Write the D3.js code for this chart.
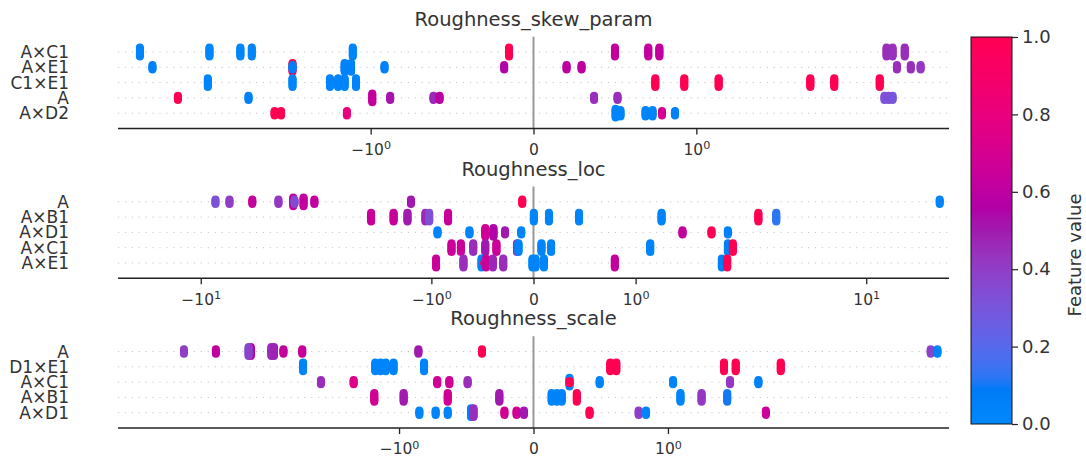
<!DOCTYPE html>
<html>
<head>
<meta charset="utf-8">
<script src="https://cdn.jsdelivr.net/npm/d3@7"></script>
<style>
body { margin: 0; background: #fff; }
svg { display: block; }
text { font-family: "DejaVu Sans", sans-serif; fill: #333; }
</style>
</head>
<body>
<svg id="chart" width="1086" height="458"></svg>
<script>
var titles = ["Roughness_skew_param", "Roughness_loc", "Roughness_scale"];
var features = [
    ["A×C1", "A×E1", "C1×E1", "A", "A×D2"],
    ["A", "A×B1", "A×D1", "A×C1", "A×E1"],
    ["A", "D1×E1", "A×C1", "A×B1", "A×D1"]
];
var xLimits = [4.05, 28.2, 8.07];
var xTicks = [[-1, 0, 1], [-10, -1, 0, 1, 10], [-1, 0, 1]];
var colorTicks = [0, 0.2, 0.4, 0.6, 0.8, 1.0];

// each point: [shap value, feature value, number of stacked samples]
var skewPoints = [
    [[-3.41, 0.02, 9], [-1.99, 0.02, 9], [-1.80, 0.02, 9], [-1.73, 0.02, 9], [-1.11, 0.03, 9], [-0.15, 1, 9],
     [0.50, 0.62, 9], [0.705, 0.62, 9], [0.773, 0.62, 9], [2.48, 0.45, 9], [2.60, 0.44, 9], [2.86, 0.45, 9]],
    [[-3.09, 0.05, 5], [-1.48, 1, 9], [-1.48, 0.05, 5], [-1.16, 0.04, 9], [-1.12, 0.04, 9], [-0.915, 0.05, 5],
     [-0.18, 0.55, 5], [0.203, 0.6, 5], [0.295, 0.6, 5], [2.69, 0.45, 5], [3.00, 0.45, 5], [3.24, 0.42, 5]],
    [[-2.00, 0.03, 9], [-1.48, 0.03, 9], [-1.25, 0.03, 9], [-1.20, 0.03, 9], [-1.16, 0.03, 9], [-1.09, 0.03, 9],
     [0.748, 1, 9], [0.926, 1, 9], [1.137, 1, 9], [1.70, 1, 9], [1.847, 1, 9], [2.35, 1, 9]],
    [[-2.53, 1, 5], [-1.75, 0.05, 5], [-0.99, 0.62, 9], [-0.88, 0.52, 5], [-0.614, 0.47, 5], [-0.577, 0.58, 5],
     [0.372, 0.45, 5], [0.516, 0.45, 5], [2.44, 0.32, 5], [2.52, 0.32, 5], [2.60, 0.3, 5]],
    [[-1.59, 1, 5], [-1.55, 1, 5], [-1.146, 0.8, 5], [0.504, 0.03, 9], [0.534, 0.03, 7], [0.688, 0.03, 7],
     [0.731, 0.03, 7], [0.789, 0.7, 5], [0.869, 0.05, 5]]
];
var locPoints = [
    [[-8.32, 0.32, 5], [-6.98, 0.4, 5], [-5.24, 0.62, 5], [-3.78, 0.42, 5], [-3.14, 0.62, 9], [-3.09, 0.35, 5],
     [-2.76, 0.62, 9], [-2.41, 0.62, 5], [-1.20, 0.5, 5], [-0.11, 1, 5], [25.1, 0.03, 5]],
    [[-1.59, 0.64, 9], [-1.37, 0.64, 9], [-1.234, 0.5, 9], [-1.058, 0.47, 9], [-1.021, 0.33, 9], [-0.836, 0.64, 9],
     [0.003, 0.03, 9], [0.151, 0.03, 9], [0.446, 0.03, 9], [1.254, 0.03, 9], [2.59, 1, 9], [3.24, 0.12, 9]],
    [[-0.94, 0.03, 5], [-0.627, 0.03, 5], [-0.472, 0.68, 9], [-0.392, 0.55, 9], [-0.279, 0.5, 5], [-0.12, 0.03, 5],
     [1.459, 0.62, 5], [1.743, 1, 5], [1.903, 0.05, 5]],
    [[-0.803, 0.65, 9], [-0.711, 0.65, 9], [-0.59, 0.45, 9], [-0.472, 0.5, 9], [-0.363, 0.65, 9], [-0.162, 0.45, 9],
     [-0.147, 0.03, 9], [0.078, 0.03, 9], [0.173, 0.03, 9], [1.143, 0.03, 9], [1.903, 0.05, 9], [1.952, 1, 9]],
    [[-0.954, 0.65, 9], [-0.686, 0.45, 9], [-0.509, 0.03, 9], [-0.48, 1, 3], [-0.465, 0.65, 9], [-0.398, 0.47, 9],
     [-0.296, 0.45, 9], [-0.01, 0.03, 9], [0.02, 0.03, 9], [0.102, 0.03, 9], [0.796, 0.62, 9], [1.844, 0.05, 9],
     [1.897, 1, 9]]
];
var scalePoints = [
    [[-4.31, 0.4, 5], [-3.18, 0.62, 5], [-2.28, 0.62, 9], [-2.33, 0.38, 9], [-1.95, 0.45, 9], [-1.93, 0.48, 9],
     [-1.86, 0.62, 5], [-1.72, 0.64, 5], [-0.856, 0.5, 5], [-0.383, 1, 5], [6.78, 0.38, 5], [7.23, 0.03, 5]],
    [[-1.714, 0.03, 9], [-1.177, 0.03, 9], [-1.138, 0.03, 9], [-1.099, 0.03, 9], [-1.041, 0.03, 9], [-0.814, 0.03, 9],
     [0.571, 1, 9], [0.616, 1, 9], [1.417, 1, 9], [1.504, 1, 9], [1.839, 1, 9]],
    [[-1.581, 0.45, 5], [-1.338, 0.75, 5], [-0.716, 0.68, 5], [-0.626, 0.68, 5], [-0.49, 0.45, 5], [0.268, 0.03, 9],
     [0.268, 1, 3], [0.492, 0.03, 5], [1.038, 0.03, 5], [1.462, 0.42, 5], [1.673, 0.05, 5]],
    [[-1.184, 0.68, 9], [-0.966, 0.5, 9], [-0.638, 0.68, 9], [-0.254, 0.5, 9], [0.135, 0.03, 9], [0.173, 0.03, 9],
     [0.21, 0.03, 9], [0.322, 1, 9], [1.093, 0.03, 9], [1.25, 0.42, 9], [1.441, 0.1, 9]],
    [[-0.849, 0.03, 5], [-0.728, 0.03, 5], [-0.638, 0.03, 5], [-0.465, 0.03, 9], [-0.446, 0.45, 9], [-0.216, 0.68, 5],
     [-0.126, 0.68, 5], [-0.071, 0.5, 5], [0.417, 1, 5], [0.782, 0.4, 5], [0.837, 0.03, 5], [1.728, 0.65, 5]]
];
var panelPoints = [skewPoints, locPoints, scalePoints];

// matplotlib style symlog (linthresh 2, linscale 1)
var linthresh = 2, linAdj = 1 / (1 - 1 / 10);
function symlog(v) {
    var a = Math.abs(v);
    if (a <= linthresh) return v * linAdj;
    return Math.sign(v) * linthresh * (linAdj + Math.log10(a / linthresh));
}

// shap red_blue colormap, interpolated in Lch
function shapColor(t) {
    var l = t < 0.5 ? 54 + (40 - 54) * t / 0.5 : 40 + (54 - 40) * (t - 0.5) / 0.5;
    var c = 70 + 20 * t;
    var h = 266.93 + (380.32 - 266.93) * t;
    return d3.hcl(h, c, l).formatHex();
}

var svg = d3.select("#chart");
var left = 118, right = 949;
var rowUnit = 15.3;
var bottoms = [128.5, 278.3, 428];
var dotR = 4;

function tickLabel(sel, v) {
    sel.text(null);
    if (v === 0) { sel.text("0"); return; }
    var e = Math.round(Math.log10(Math.abs(v)));
    sel.append("tspan").text((v < 0 ? "\u221210" : "10"));
    sel.append("tspan").attr("dy", "-0.5em").attr("font-size", "0.72em").text(e);
}

titles.forEach(function (title, p) {
    var bottom = bottoms[p];
    var top = bottom - 6 * rowUnit;
    var L = xLimits[p];
    var x = d3.scaleLinear().domain([symlog(-L), symlog(L)]).range([left, right]);
    var y = d3.scaleLinear().domain([-1, 5]).range([bottom, top]);
    var g = svg.append("g");

    // dotted row guides
    features[p].forEach(function (f, i) {
        var yy = y(4 - i);
        g.append("line").attr("x1", left).attr("x2", right).attr("y1", yy).attr("y2", yy)
            .attr("stroke", "#c4c4c4").attr("stroke-width", 1).attr("stroke-dasharray", "1.2,5.7");
        g.append("text").attr("x", 69).attr("y", yy + 6).attr("text-anchor", "end")
            .attr("font-size", 17).text(f);
    });

    g.append("line").attr("x1", x(0)).attr("x2", x(0)).attr("y1", top).attr("y2", bottom)
        .attr("stroke", "#999").attr("stroke-width", 2);

    // beeswarm style stacking
    panelPoints[p].forEach(function (row, i) {
        var yc = y(4 - i);
        var maxLayer = d3.max(row, function (d) { return Math.ceil((d[2] - 1) / 2); });
        var step = 0.9 * 0.4 / (maxLayer + 1) * rowUnit;
        row.forEach(function (d) {
            var layers = d3.range(d[2]).map(function (l) { return Math.ceil(l / 2) * ((l % 2) * 2 - 1); });
            g.selectAll(null).data(layers).enter().append("circle")
                .attr("cx", x(symlog(d[0])))
                .attr("cy", function (o) { return yc - o * step; })
                .attr("r", dotR)
                .attr("fill", shapColor(d[1]));
        });
    });

    var axis = d3.axisBottom(x).tickValues(xTicks[p].map(symlog)).tickSize(6).tickPadding(4).tickFormat("");
    var ag = g.append("g").attr("transform", "translate(0," + bottom + ")").call(axis);
    ag.select(".domain").attr("stroke", "#222").attr("stroke-width", 1.6).attr("d", "M" + left + ",0H" + right);
    ag.selectAll(".tick line").attr("stroke", "#222").attr("stroke-width", 1.3);
    ag.selectAll(".tick text").each(function (d, k) {
        d3.select(this).attr("font-size", 15.5).attr("fill", "#333").attr("dy", "1.05em");
        tickLabel(d3.select(this), xTicks[p][k]);
    });

    g.append("text").attr("x", (left + right) / 2).attr("y", top - 11).attr("text-anchor", "middle")
        .attr("font-size", 19.5).attr("fill", "#111").text(title);
});

// colour bar
var cbX = 971, cbW = 41, cbTop = 37, cbBottom = 424;
var defs = svg.append("defs");
var grad = defs.append("linearGradient").attr("id", "cbGrad")
    .attr("x1", "0").attr("y1", "1").attr("x2", "0").attr("y2", "0");
grad.selectAll("stop").data(d3.range(0, 1.0001, 0.01)).enter().append("stop")
    .attr("offset", function (d) { return (d * 100) + "%"; })
    .attr("stop-color", function (d) { return shapColor(d); });
svg.append("rect").attr("x", cbX).attr("y", cbTop).attr("width", cbW).attr("height", cbBottom - cbTop)
    .attr("fill", "url(#cbGrad)").attr("stroke", "#111").attr("stroke-width", 1);

var cy = d3.scaleLinear().domain([0, 1]).range([cbBottom, cbTop]);
var cAxis = d3.axisRight(cy).tickValues(colorTicks).tickSize(6).tickPadding(4).tickFormat(d3.format(".1f"));
var cg = svg.append("g").attr("transform", "translate(" + (cbX + cbW) + ",0)").call(cAxis);
cg.select(".domain").remove();
cg.selectAll(".tick line").attr("stroke", "#222").attr("stroke-width", 1.2);
cg.selectAll(".tick text").attr("font-size", 18).attr("fill", "#333")
    .attr("font-family", "DejaVu Sans, sans-serif");

svg.append("text").attr("transform", "translate(1081,255) rotate(-90)")
    .attr("text-anchor", "middle").attr("font-size", 18).text("Feature value");
</script>
</body>
</html>
